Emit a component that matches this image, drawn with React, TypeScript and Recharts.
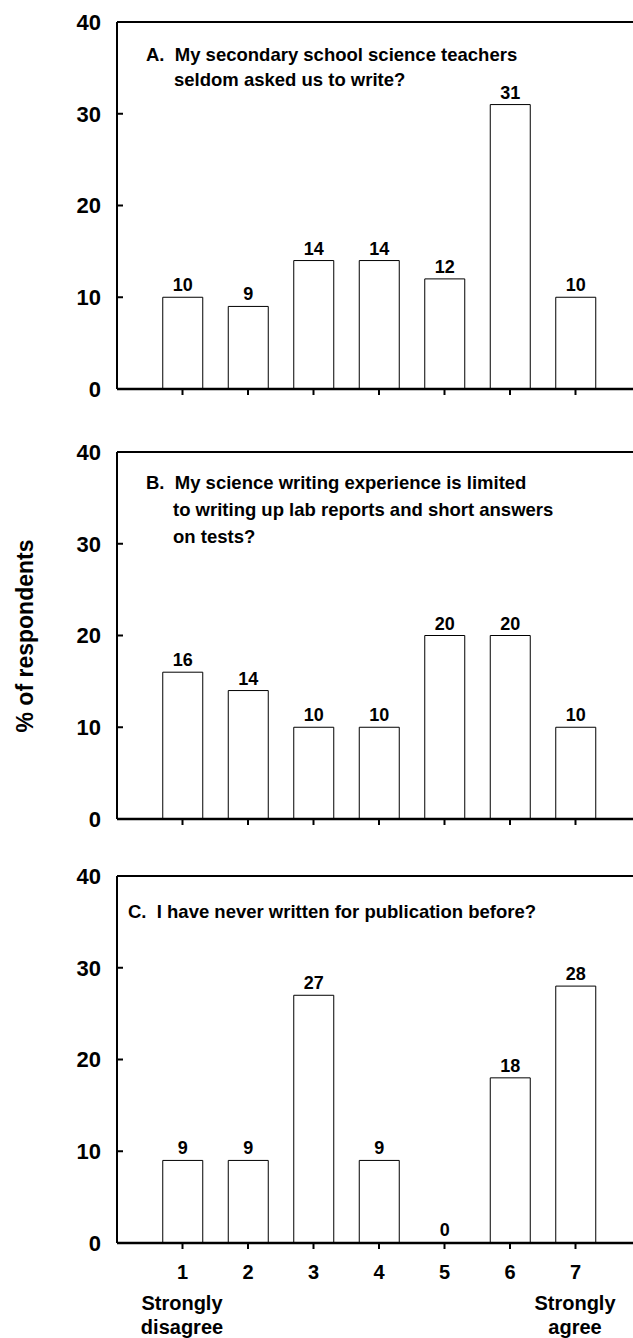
import React from 'react';
import { BarChart, Bar, XAxis, YAxis, LabelList, ReferenceLine, Cell } from 'recharts';

const categories = [1, 2, 3, 4, 5, 6, 7];
const panelA = [10, 9, 14, 14, 12, 31, 10];
const panelB = [16, 14, 10, 10, 20, 20, 10];
const panelC = [9, 9, 27, 9, 0, 18, 28];
const yTicks = [0, 10, 20, 30, 40];

const titleA = ['A.  My secondary school science teachers', 'seldom asked us to write?'];
const titleB = [
  'B.  My science writing experience is limited',
  'to writing up lab reports and short answers',
  'on tests?',
];
const titleC = ['C.  I have never written for publication before?'];

const FONT = '"Liberation Sans", Arial, Helvetica, sans-serif';

const YTick = (props: any) => {
  const { x, y, payload } = props;
  return (
    <g>
      <line x1={x + 16} x2={x + 22} y1={y} y2={y} stroke="#000" strokeWidth={2} />
      <text x={x} y={y} dy="0.36em" textAnchor="end" fontSize={22} fontWeight="bold" fontFamily={FONT} fill="#000">
        {payload.value}
      </text>
    </g>
  );
};

const makeXTick = (show: boolean) => (props: any) => {
  const { x, y, payload } = props;
  if (!show) return <g />;
  return (
    <text x={x} y={y} dy="0.36em" textAnchor="middle" fontSize={20} fontWeight="bold" fontFamily={FONT} fill="#000">
      {payload.value}
    </text>
  );
};

interface PanelProps {
  values: number[];
  top: number;
  showTicks: boolean;
}

// plot area top sits at `top`, 367px tall, axis at 117px from left
const Panel: React.FC<PanelProps> = ({ values, top, showTicks }) => {
  const data = categories.map((c, i) => ({ x: c, v: values[i] }));
  return (
    <div style={{ position: 'absolute', left: 0, top: top - 20 }}>
      <BarChart width={660} height={427} data={data} margin={{ top: 20, right: 19, left: 0, bottom: 0 }}>
        <XAxis
          dataKey="x"
          type="number"
          domain={[0, 8]}
          ticks={categories}
          height={40}
          axisLine={{ stroke: '#000', strokeWidth: 2.5 }}
          tickLine={{ stroke: '#000', strokeWidth: 2 }}
          tickSize={6}
          tickMargin={23}
          tick={makeXTick(showTicks)}
          interval={0}
        />
        <YAxis
          type="number"
          domain={[0, 40]}
          ticks={yTicks}
          width={117}
          axisLine={{ stroke: '#000', strokeWidth: 2 }}
          tickLine={false}
          tickSize={0}
          tickMargin={16}
          tick={<YTick />}
          interval={0}
        />
        <ReferenceLine y={40} stroke="#000" strokeWidth={2} />
        <Bar
          dataKey="v"
          fill="#fff"
          stroke="#000"
          strokeWidth={1}
          barSize={40}
          minPointSize={1}
          isAnimationActive={false}
        >
          {data.map((d) => (
            <Cell key={d.x} stroke={d.v === 0 ? 'none' : '#000'} />
          ))}
          <LabelList
            dataKey="v"
            position="top"
            offset={6}
            style={{ fontSize: 18, fontWeight: 'bold', fontFamily: FONT, fill: '#000' }}
          />
        </Bar>
      </BarChart>
    </div>
  );
};

const textStyle: React.CSSProperties = {
  position: 'absolute',
  fontFamily: FONT,
  fontWeight: 'bold',
  color: '#000',
  whiteSpace: 'pre',
};

const Line = ({ text, left, cy, size = 18.5 }: { text: string; left: number; cy: number; size?: number }) => (
  <div style={{ ...textStyle, left, top: cy - 11, fontSize: size, lineHeight: '22px' }}>{text}</div>
);

export default function App() {
  return (
    <div
      style={{
        position: 'absolute',
        left: 0,
        top: 0,
        width: 633,
        height: 1338,
        overflow: 'hidden',
        background: '#fff',
      }}
    >
      <Panel values={panelA} top={22} showTicks={false} />
      <Panel values={panelB} top={452} showTicks={false} />
      <Panel values={panelC} top={876} showTicks={true} />

      <Line text={titleA[0]} left={146} cy={55} />
      <Line text={titleA[1]} left={174} cy={80} />
      <Line text={titleB[0]} left={146} cy={483} />
      <Line text={titleB[1]} left={173} cy={510} />
      <Line text={titleB[2]} left={173} cy={537} />
      <Line text={titleC[0]} left={128} cy={912} />

      <div
        style={{
          ...textStyle,
          left: 25 - 150,
          top: 636 - 14,
          width: 300,
          height: 28,
          lineHeight: '28px',
          fontSize: 23,
          textAlign: 'center',
          transform: 'rotate(-90deg)',
        }}
      >
        % of respondents
      </div>

      <div style={{ ...textStyle, left: 182 - 70, top: 1291, width: 140, fontSize: 20, lineHeight: '24px', textAlign: 'center' }}>
        {'Strongly\ndisagree'}
      </div>
      <div style={{ ...textStyle, left: 575 - 70, top: 1291, width: 140, fontSize: 20, lineHeight: '24px', textAlign: 'center' }}>
        {'Strongly\nagree'}
      </div>
    </div>
  );
}
